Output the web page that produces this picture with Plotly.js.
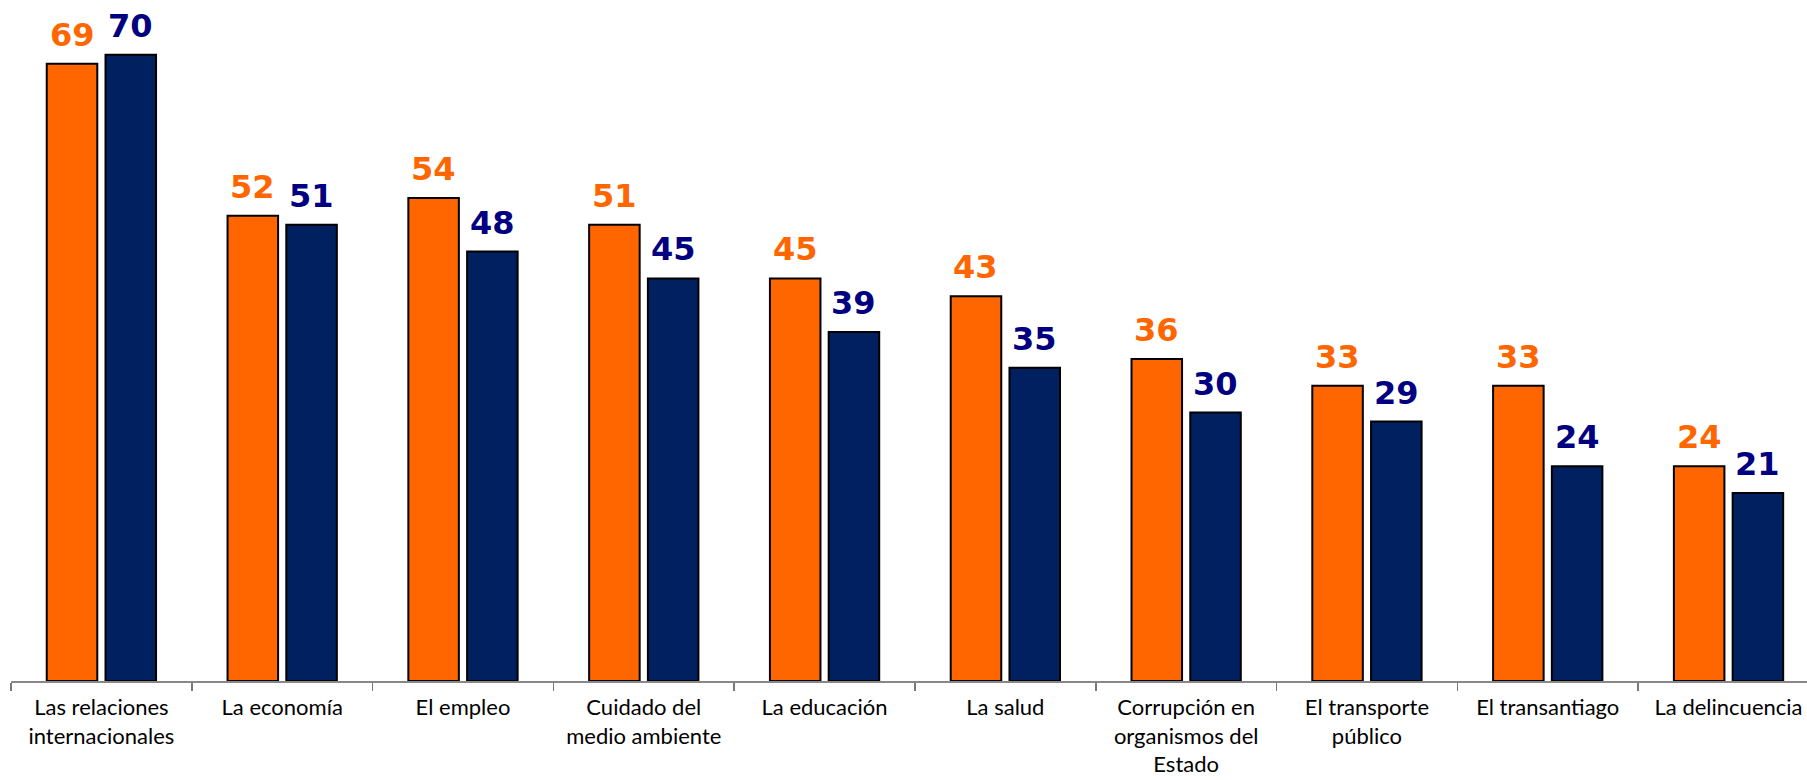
<!DOCTYPE html>
<html>
<head>
<meta charset="utf-8">
<script src="https://cdn.plot.ly/plotly-3.0.1.min.js"></script>
<style>html,body{margin:0;padding:0;background:#fff;overflow:hidden}</style>
</head>
<body>
<div id="chart" style="width:1807px;height:780px"></div>
<script>
const categories = [
  "Las relaciones<br>internacionales",
  "La economía",
  "El empleo",
  "Cuidado del<br>medio ambiente",
  "La educación",
  "La salud",
  "Corrupción en<br>organismos del<br>Estado",
  "El transporte<br>público",
  "El transantiago",
  "La delincuencia"
];
const seriesA = [69, 52, 54, 51, 45, 43, 36, 33, 33, 24];
const seriesB = [70, 51, 48, 45, 39, 35, 30, 29, 24, 21];

const orange = "#FF6600", navyBar = "#002060", navyText = "#000080";

const traces = [
  {type: "bar", x: categories, y: seriesA, name: "A",
   marker: {color: orange, line: {color: "#000", width: 2}}, hoverinfo: "y"},
  {type: "bar", x: categories, y: seriesB, name: "B",
   marker: {color: navyBar, line: {color: "#000", width: 2}}, hoverinfo: "y"}
];

const annotations = [];
const labelFont = {family: "DejaVu Sans", size: 32, weight: "bold"};
categories.forEach((c, i) => {
  annotations.push({x: c, y: seriesA[i], xref: "x", yref: "y", text: String(seriesA[i]),
    showarrow: false, yanchor: "bottom", xshift: -29.4, yshift: 8,
    font: Object.assign({color: orange}, labelFont)});
  annotations.push({x: c, y: seriesB[i], xref: "x", yref: "y", text: String(seriesB[i]),
    showarrow: false, yanchor: "bottom", xshift: 29.4, yshift: 8,
    font: Object.assign({color: navyText}, labelFont)});
});

const layout = {
  width: 1807, height: 780,
  margin: {l: 11, r: 0, t: 10, b: 99},
  paper_bgcolor: "#fff", plot_bgcolor: "#fff",
  showlegend: false,
  barmode: "group", bargap: 0.35, bargroupgap: 0.14,
  xaxis: {
    type: "category", range: [-0.5, 9.434],
    showline: true, linecolor: "#888", linewidth: 1.5,
    ticks: "outside", tickson: "boundaries", ticklen: 8, tickcolor: "#777", tickwidth: 1.5,
    tickfont: {family: "Lato", size: 22, color: "#000"}, ticklabelstandoff: 6,
    showgrid: false, zeroline: false, tickangle: 0, automargin: false
  },
  yaxis: {
    range: [0, 75], visible: false, showgrid: false, zeroline: false, fixedrange: true
  },
  annotations: annotations
};

Plotly.newPlot("chart", traces, layout, {displayModeBar: false, staticPlot: true});
</script>
</body>
</html>
